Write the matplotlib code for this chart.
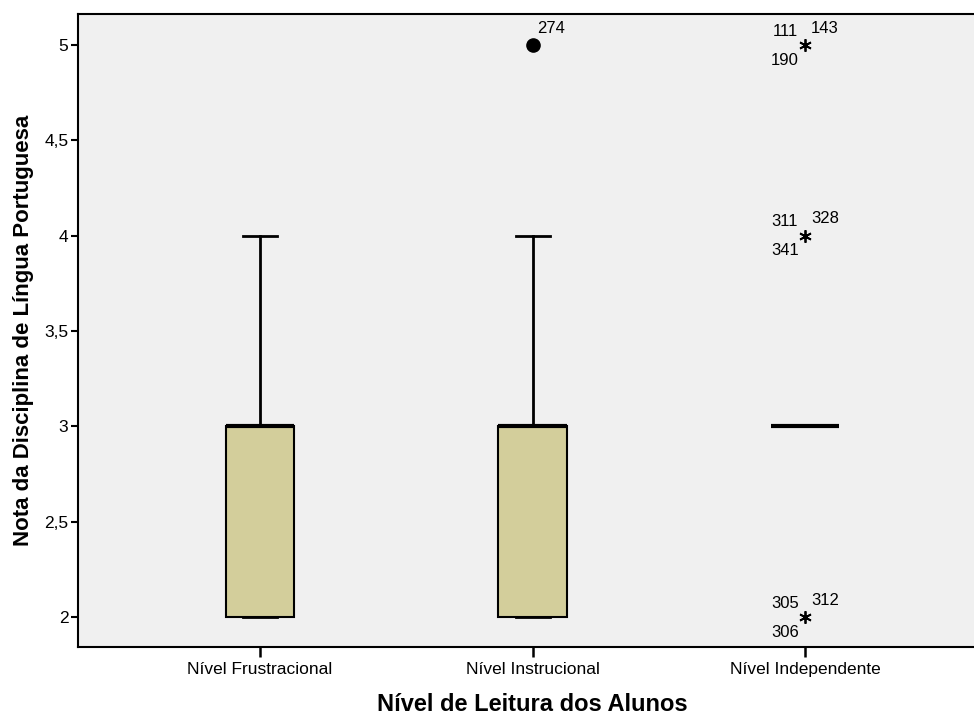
import matplotlib
matplotlib.use("Agg")
import matplotlib.pyplot as plt
from matplotlib.ticker import FuncFormatter

plt.rcParams["font.family"] = ["Liberation Sans", "DejaVu Sans"]

# five-number summaries per reading level
niveis = ["Nível Frustracional", "Nível Instrucional", "Nível Independente"]
whislo = [2, 2, 3]
q1 = [2, 2, 3]
med = [3, 3, 3]
q3 = [3, 3, 3]
whishi = [4, 4, 3]

# outliers (circle) and extremes (asterisk): (group, value, case ids)
outliers = [(1, 5, ["274"])]
extremes = [(2, 5, ["111", "143", "190"]),
            (2, 4, ["311", "328", "341"]),
            (2, 2, ["305", "312", "306"])]

box_color = "#D3CE9B"

fig = plt.figure(figsize=(9.74, 7.16), dpi=100)
ax = fig.add_axes([0.0801, 0.0964, 0.9333, 0.884])
ax.set_facecolor("#F0F0F0")

stats = []
for i in range(len(niveis)):
    stats.append(dict(whislo=whislo[i], q1=q1[i], med=med[i], q3=q3[i],
                      whishi=whishi[i], fliers=[], label=niveis[i]))

ax.bxp(stats, positions=range(len(niveis)), widths=0.25, patch_artist=True,
       showfliers=False,
       boxprops=dict(facecolor=box_color, edgecolor="black", linewidth=1.5),
       medianprops=dict(color="black", linewidth=3, solid_capstyle="butt"),
       whiskerprops=dict(color="black", linewidth=2),
       capprops=dict(color="black", linewidth=2),
       capwidths=0.125)

id_font = 12

for pos, val, ids in outliers:
    ax.plot(pos, val, "o", color="black", markersize=9.5, zorder=5)
    ax.annotate(ids[0], (pos, val), xytext=(13.7, 12.2),
                textcoords="offset points", fontsize=id_font,
                ha="center", va="center")

for pos, val, ids in extremes:
    ax.plot(pos, val, marker=(6, 2, 0), color="black", markersize=9,
            markeredgewidth=1.3, zorder=5)
    ax.annotate(ids[0], (pos, val), xytext=(-14.4, 10),
                textcoords="offset points", fontsize=id_font,
                ha="center", va="center")
    ax.annotate(ids[1], (pos, val), xytext=(14.4, 12.2),
                textcoords="offset points", fontsize=id_font,
                ha="center", va="center")
    ax.annotate(ids[2], (pos, val), xytext=(-14.4, -10.8),
                textcoords="offset points", fontsize=id_font,
                ha="center", va="center")

ax.set_xlim(-0.668, 2.668)
ax.set_ylim(1.843, 5.163)
ax.set_yticks([2, 2.5, 3, 3.5, 4, 4.5, 5])
ax.yaxis.set_major_formatter(
    FuncFormatter(lambda v, p: ("%g" % v).replace(".", ",")))
ax.set_xticks(range(len(niveis)))
ax.set_xticklabels(niveis)

ax.tick_params(axis="y", direction="out", length=5, width=1.5, labelsize=12.5,
               pad=2)
ax.tick_params(axis="x", direction="out", length=7, width=1.8, labelsize=12.5,
               pad=4)

for side in ["left", "bottom", "top", "right"]:
    ax.spines[side].set_linewidth(1.5)
    ax.spines[side].set_color("black")

ax.set_xlabel("Nível de Leitura dos Alunos", fontsize=17, fontweight="bold",
              labelpad=11)
ax.set_ylabel("Nota da Disciplina de Língua Portuguesa", fontsize=16,
              fontweight="bold", labelpad=7)

fig.savefig("out.png", dpi=100)
